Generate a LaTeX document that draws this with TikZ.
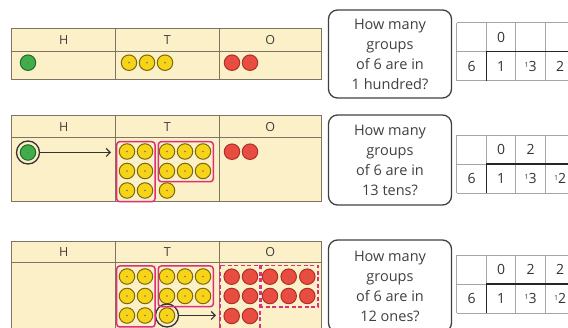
\documentclass[tikz,border=0pt]{standalone}
\usepackage{fontspec}
\setmainfont{Open Sans}
\usetikzlibrary{arrows.meta}
\definecolor{pvfill}{HTML}{FCF0C8}
\definecolor{pvline}{HTML}{7F7462}
\definecolor{hgreen}{HTML}{3FAE48}
\definecolor{tyellow}{HTML}{F7D417}
\definecolor{ored}{HTML}{EC4B3F}
\definecolor{grp}{HTML}{DC2F7E}
\tikzset{
  counter/.style={circle,draw,line width=1pt,minimum size=15.5pt,inner sep=0pt,
    path picture={\fill[black!55] (path picture bounding box.center) circle (0.9pt);}},
  hund/.style={counter,fill=hgreen,draw=hgreen!60!black},
  ten/.style={counter,fill=tyellow,draw=tyellow!50!black},
  one/.style={counter,fill=ored,draw=ored!70!black},
  ring/.style={circle,draw=black!80,line width=1.3pt,minimum size=23pt,inner sep=0pt},
  group/.style={draw=grp,line width=1.5pt,rounded corners=3pt},
  qbox/.style={draw=black!75,line width=1.3pt,rounded corners=9pt,minimum width=123pt,
    align=center,font=\fontsize{14.5}{20}\selectfont,text=black!75},
  digit/.style={font=\fontsize{14}{16}\selectfont,text=black!80},
  colhead/.style={font=\fontsize{12.5}{13}\selectfont,text=black!75}
}
\newcommand\carry[1]{\raisebox{3.5pt}{\fontsize{7}{7}\selectfont 1}#1}
\begin{document}
\begin{tikzpicture}[x=1pt,y=-1pt,>={Straight Barb[length=4pt,width=8pt]}]
  \useasboundingbox (0,0) rectangle (568,328);
  \clip (0,0) rectangle (568,328);
  % place value tables
  \foreach \top/\mid/\bot/\p in {29/51.7/80/1,116/138/202/2,242/263/345/3}{
    \fill[pvfill] (11.7,\top) rectangle (321.7,\bot);
    \draw[pvline,line width=1pt] (11.7,\top) rectangle (321.7,\bot);
    \draw[pvline,line width=1pt] (11.7,\mid) -- (321.7,\mid);
    \draw[pvline,line width=1pt] (115.7,\top) -- (115.7,\bot);
    \draw[pvline,line width=1pt] (219,\top) -- (219,\bot);
    \node[colhead] (H\p) at (63.7,{(\top+\mid)/2}) {H};
    \node[colhead] (T\p) at (167.3,{(\top+\mid)/2}) {T};
    \node[colhead] (O\p) at (270.3,{(\top+\mid)/2}) {O};
  }
  % panel 1
  \node[hund] (g1) at (28,62.7) {};
  \foreach \x [count=\i] in {129,147,165}
    \node[ten] (t1\i) at (\x,62.7) {};
  \foreach \x [count=\i] in {232,250}
    \node[one] (o1\i) at (\x,62.7) {};
  % panel 2
  \node[hund] (g2) at (28,152.5) {};
  \node[ring] (g2r) at (g2) {};
  \coordinate (g2end) at (111,152.5);
  \draw[->,black!80,line width=1.1pt] (g2r) -- (g2end);
  \foreach \x [count=\i] in {127,145}
    \foreach \y [count=\j] in {151.5,171,190.5}
      \node[ten] (t2a\i\j) at (\x,\y) {};
  \foreach \x [count=\i] in {167,185,203}
    \foreach \y [count=\j] in {151.5,171}
      \node[ten] (t2b\i\j) at (\x,\y) {};
  \node[ten] (t2c) at (167,190.5) {};
  \draw[group] (116.7,141.7) rectangle (155,201.7);
  \draw[group] (158.3,141.7) rectangle (213.3,181.7);
  \foreach \x [count=\i] in {232,250}
    \node[one] (o2\i) at (\x,151.7) {};
  % panel 3
  \foreach \x [count=\i] in {127,145}
    \foreach \y [count=\j] in {276.5,296,315.5}
      \node[ten] (t3a\i\j) at (\x,\y) {};
  \foreach \x [count=\i] in {167,185,203}
    \foreach \y [count=\j] in {276.5,296}
      \node[ten] (t3b\i\j) at (\x,\y) {};
  \node[ten] (t3c) at (167,315.5) {};
  \node[ring] (t3r) at (t3c) {};
  \coordinate (t3end) at (216,315.5);
  \draw[->,black!80,line width=1.1pt] (t3r) -- (t3end);
  \draw[group] (116.7,266) rectangle (155,327);
  \draw[group] (158.3,266) rectangle (213.3,306.7);
  \foreach \x [count=\i] in {231.7,250}
    \foreach \y [count=\j] in {276.7,296,316}
      \node[one] (o3a\i\j) at (\x,\y) {};
  \foreach \x [count=\i] in {270,288.7,307.3}
    \foreach \y [count=\j] in {276.7,296}
      \node[one] (o3b\i\j) at (\x,\y) {};
  \draw[group,dash pattern=on 4pt off 2.5pt,rounded corners=0pt] (220,265.5) rectangle (260,332);
  \draw[group,dash pattern=on 4pt off 2.5pt,rounded corners=0pt] (261.7,265.5) rectangle (318,307);
  % questions
  \node[qbox,minimum height=88pt] (q1) at (390,54) {How many\\groups\\of 6 are in\\1 hundred?};
  \node[qbox,minimum height=90pt] (q2) at (390,160) {How many\\groups\\of 6 are in\\13 tens?};
  \node[qbox,minimum height=92pt] (q3) at (390,286) {How many\\groups\\of 6 are in\\12 ones?};
  % division tables
  \foreach \top/\p in {22.7/1,135/2,255/3}{
    \foreach \k in {0,...,4}
      \draw[black!35,line width=0.7pt] (456.7+29.5*\k,\top) -- ++(0,58);
    \foreach \r in {0,29,58}
      \draw[black!35,line width=0.7pt] (456.7,\top+\r) -- (575,\top+\r);
    \draw[black!85,line width=1.4pt] (486.2,\top+58) -- (486.2,\top+29) -- (575,\top+29);
    \node[digit] (d\p a) at (471.5,\top+43.5) {6};
    \node[digit] (d\p b) at (501,\top+43.5) {1};
    \node[digit] (d\p c) at (530.5,\top+43.5) {\carry{3}};
    \node[digit] (q\p a) at (501,\top+14.5) {0};
  }
  \node[digit] (d1d) at (560,22.7+43.5) {2};
  \node[digit] (d2d) at (560,135+43.5) {\carry{2}};
  \node[digit] (d3d) at (560,255+43.5) {\carry{2}};
  \node[digit] (q2b) at (530.5,135+14.5) {2};
  \node[digit] (q3b) at (530.5,255+14.5) {2};
  \node[digit] (q3c) at (560,255+14.5) {2};
\end{tikzpicture}
\end{document}
